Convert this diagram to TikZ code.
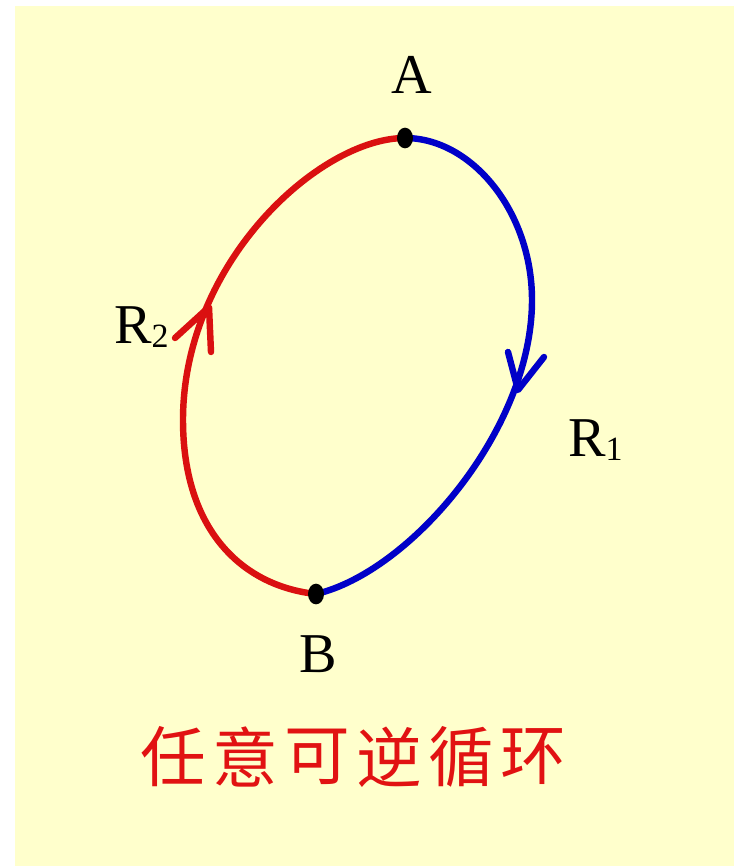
\documentclass[tikz,border=0pt]{standalone}
\usepackage{fontspec}
\setmainfont{Liberation Serif}
\newfontfamily\cjk{Noto Sans CJK SC}
\usetikzlibrary{shapes.geometric}

\definecolor{bgyellow}{RGB}{255,255,204}
\definecolor{curvered}{RGB}{218,16,16}
\definecolor{curveblue}{RGB}{0,0,200}
\definecolor{textred}{RGB}{225,18,18}

% R with a lowered index
\newcommand{\Rsub}[1]{R\raisebox{-4pt}{\fontsize{29}{29}\selectfont #1}}

\tikzset{
	lab/.style={font=\fontsize{48}{50}\selectfont, inner sep=0pt},
	statedot/.style={ellipse, fill=black, inner sep=0pt, minimum width=0.48cm, minimum height=0.62cm},
	cyclepath/.style={line width=5.5pt},
	barb/.style={line width=5.5pt, line cap=round, line join=round}
}

\begin{document}
\begin{tikzpicture}[x=0.03cm, y=-0.03cm]

\useasboundingbox (0,0) rectangle (738,866);

% Background
\fill[bgyellow] (15,6) rectangle (734,866);

% States
\coordinate (A) at (405,138);
\coordinate (B) at (316,594);

%R1 on the right
\draw[cyclepath, curveblue] (A) .. controls (472,138) and (532,212) .. (532,300)
	.. controls (532,430) and (410,572) .. (B);
\draw[barb, curveblue] (508,352) -- (518,390) -- (544,357);

%R2 on the left
\draw[cyclepath, curvered] (A) .. controls (320,138) and (183,262) .. (183,420)
	.. controls (183,530) and (242,586) .. (B);
\draw[barb, curvered] (175,338) -- (209,307) -- (211,352);

% Dots on the states
\node[statedot] (Adot) at (A) {};
\node[statedot] (Bdot) at (B) {};

% Labels
\node[lab, anchor=base] (Alab) at (412,93) {A};
\node[lab, anchor=base] (Blab) at (318,672) {B};
\node[lab, anchor=base west] (R1lab) at (568,456) {\Rsub{1}};
\node[lab, anchor=base west] (R2lab) at (114,343) {\Rsub{2}};

% Caption
\foreach \ch [count=\i] in {任,意,可,逆,循,环}
	\node[text=textred, inner sep=0pt, font=\cjk\fontsize{56}{56}\selectfont] (cap\i) at ({173+72*(\i-1)},757) {\ch};

\end{tikzpicture}
\end{document}
